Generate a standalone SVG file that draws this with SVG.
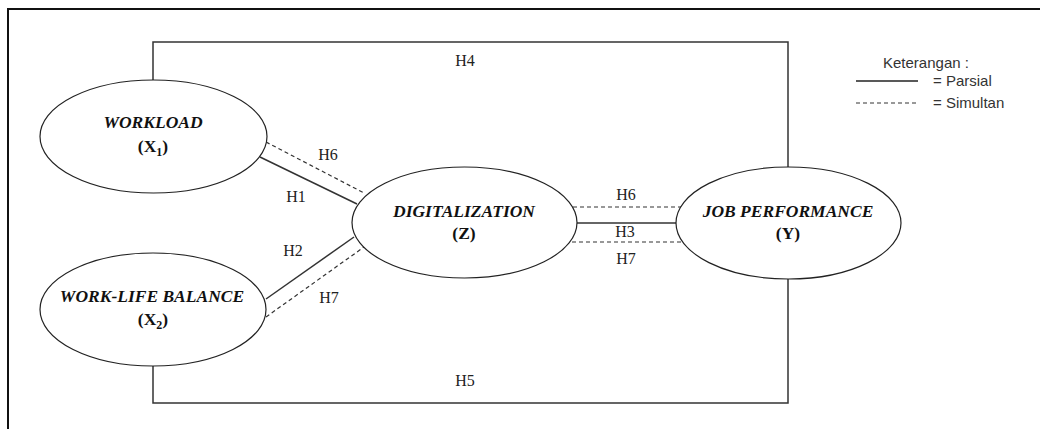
<svg xmlns="http://www.w3.org/2000/svg" width="1040" height="429" viewBox="0 0 1040 429">
  <style>
    .frame { fill: none; stroke: #111; stroke-width: 2; }
    .node { fill: #fff; stroke: #222; stroke-width: 1.2; }
    .solid { fill: none; stroke: #333; stroke-width: 1.5; }
    .dash { fill: none; stroke: #333; stroke-width: 1.2; stroke-dasharray: 4 3; }
    .title { font-family: "Liberation Serif", "Times New Roman", serif; font-size: 17.5px; font-weight: bold; font-style: italic; fill: #111; text-anchor: middle; }
    .var { font-family: "Liberation Serif", "Times New Roman", serif; font-size: 17.5px; font-weight: bold; fill: #111; text-anchor: middle; }
    .hyp { font-family: "Liberation Serif", "Times New Roman", serif; font-size: 16px; fill: #222; text-anchor: middle; }
    .legend { font-family: "Liberation Sans", Arial, sans-serif; font-size: 15px; fill: #333; }
  </style>

  <rect width="1040" height="429" fill="#fff"/>

  <!-- outer border (top and left edges) -->
  <path class="frame" d="M8 429 V9 H1040"/>

  <!-- connectors -->
  <g id="connectors">
    <!-- H4: Workload to Job Performance -->
    <path class="solid" d="M153 80 V42 H788 V167"/>
    <!-- H5: Work-Life Balance to Job Performance -->
    <path class="solid" d="M153 366 V403 H788 V279"/>
    <!-- Workload to Digitalization -->
    <line class="dash" x1="266" y1="142" x2="364" y2="193"/>
    <line class="solid" x1="260" y1="157" x2="357" y2="204"/>
    <!-- Work-Life Balance to Digitalization -->
    <line class="solid" x1="266" y1="299" x2="354" y2="237"/>
    <line class="dash" x1="266" y1="317" x2="364" y2="247"/>
    <!-- Digitalization to Job Performance -->
    <line class="dash" x1="573" y1="207" x2="681" y2="207"/>
    <line class="solid" x1="577" y1="223" x2="676" y2="223"/>
    <line class="dash" x1="572" y1="242" x2="681" y2="242"/>
  </g>

  <!-- hypothesis labels -->
  <g id="labels">
    <text class="hyp" x="465" y="66">H4</text>
    <text class="hyp" x="465" y="386">H5</text>
    <text class="hyp" x="328" y="160">H6</text>
    <text class="hyp" x="296" y="202">H1</text>
    <text class="hyp" x="293" y="256">H2</text>
    <text class="hyp" x="329" y="303">H7</text>
    <text class="hyp" x="626" y="200">H6</text>
    <text class="hyp" x="625" y="237">H3</text>
    <text class="hyp" x="626" y="264">H7</text>
  </g>

  <g id="workload">
    <ellipse class="node" cx="153.5" cy="136.5" rx="113.5" ry="56.5"/>
    <text class="title" x="153" y="128">WORKLOAD</text>
    <text class="var" x="153" y="152">(X<tspan font-size="12" dy="4">1</tspan><tspan dy="-4">)</tspan></text>
  </g>

  <g id="work-life-balance">
    <ellipse class="node" cx="153" cy="309.5" rx="113" ry="56.5"/>
    <text class="title" x="152" y="302">WORK-LIFE BALANCE</text>
    <text class="var" x="153" y="325">(X<tspan font-size="12" dy="4">2</tspan><tspan dy="-4">)</tspan></text>
  </g>

  <g id="digitalization">
    <ellipse class="node" cx="464.5" cy="222.5" rx="112.5" ry="55.5"/>
    <text class="title" x="464" y="217">DIGITALIZATION</text>
    <text class="var" x="464" y="239">(Z)</text>
  </g>

  <g id="job-performance">
    <ellipse class="node" cx="788.5" cy="223" rx="112.5" ry="56"/>
    <text class="title" x="788" y="217">JOB PERFORMANCE</text>
    <text class="var" x="788" y="239">(Y)</text>
  </g>

  <!-- legend -->
  <g id="legend">
    <text class="legend" x="883" y="68">Keterangan :</text>
    <line x1="856" y1="81" x2="918" y2="81" stroke="#222" stroke-width="1.5"/>
    <text class="legend" x="933" y="86">= Parsial</text>
    <line x1="856" y1="103" x2="918" y2="103" stroke="#333" stroke-width="1" stroke-dasharray="4 3"/>
    <text class="legend" x="933" y="108">= Simultan</text>
  </g>
</svg>
